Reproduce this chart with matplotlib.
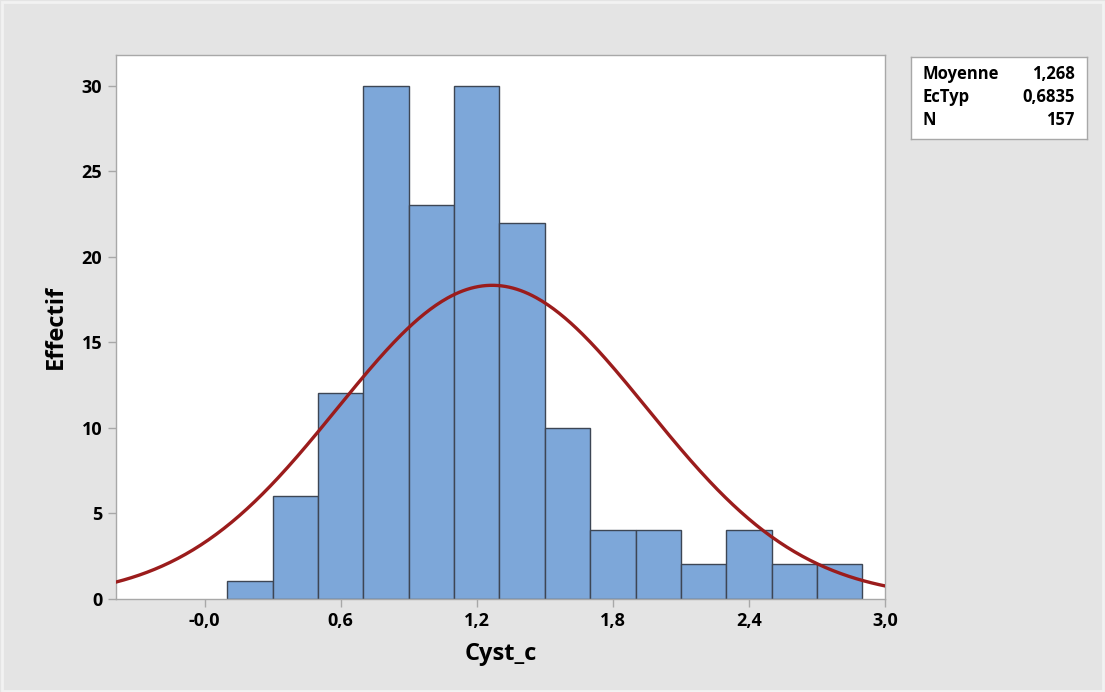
import numpy as np
import matplotlib
matplotlib.use('Agg')
import matplotlib.pyplot as plt
from matplotlib.patches import Rectangle

# Histogram data (bin midpoints and counts)
bin_mids = [0.2, 0.4, 0.6, 0.8, 1.0, 1.2, 1.4, 1.6, 1.8, 2.0, 2.2, 2.4, 2.6, 2.8]
counts = [1, 6, 12, 30, 23, 30, 22, 10, 4, 4, 2, 4, 2, 2]
bin_width = 0.2

# Summary statistics
stat_names = ['Moyenne', 'EcTyp', 'N']
stat_values = ['1,268', '0,6835', '157']
mean_val = 1.268
sd_val = 0.6835
n_obs = 157

xtick_pos = [0.0, 0.6, 1.2, 1.8, 2.4, 3.0]
xtick_labels = ['-0,0', '0,6', '1,2', '1,8', '2,4', '3,0']
ytick_pos = [0, 5, 10, 15, 20, 25, 30]

plt.rcParams['font.family'] = ['Open Sans', 'DejaVu Sans']

fig = plt.figure(figsize=(11.05, 6.92), dpi=100)
fig.patch.set_facecolor('#e4e4e4')
fig.patches.append(Rectangle((0.002, 0.002), 0.996, 0.995, transform=fig.transFigure,
                             fill=False, edgecolor='#f2f2f2', linewidth=2))

ax = fig.add_axes([0.105, 0.135, 0.696, 0.7855])
ax.set_facecolor('white')

ax.bar(bin_mids, counts, width=bin_width, color='#7da7d9',
       edgecolor='#3d4654', linewidth=1.0, zorder=2)

# Fitted normal curve
xmin, xmax = -0.39, 3.0
xs = np.linspace(xmin, xmax, 400)
ys = n_obs * bin_width / (sd_val * np.sqrt(2 * np.pi)) * np.exp(-0.5 * ((xs - mean_val) / sd_val) ** 2)
ax.plot(xs, ys, color='#9b1c1c', linewidth=2.4, zorder=3)

ax.set_xlim(xmin, xmax)
ax.set_ylim(0, 31.8)

ax.set_xticks(xtick_pos)
ax.set_xticklabels(xtick_labels)
ax.set_yticks(ytick_pos)

for s in ax.spines.values():
    s.set_color('#a8a8a8')
    s.set_linewidth(1.0)

ax.tick_params(axis='both', direction='out', length=6, width=1, color='#a8a8a8',
               labelsize=13, labelcolor='black', pad=4)
for lbl in ax.get_xticklabels() + ax.get_yticklabels():
    lbl.set_fontweight('bold')

ax.set_xlabel('Cyst_c', fontsize=17, fontweight='bold', labelpad=8)
ax.set_ylabel('Effectif', fontsize=17, fontweight='bold', labelpad=10)

# Stats box
box_ax = fig.add_axes([911 / 1105, 1 - 139 / 692, 176 / 1105, 82 / 692])
box_ax.set_xlim(0, 1)
box_ax.set_ylim(0, 1)
box_ax.set_xticks([])
box_ax.set_yticks([])
box_ax.set_facecolor('white')
for s in box_ax.spines.values():
    s.set_color('#a8a8a8')
    s.set_linewidth(1.0)
for i, (name, val) in enumerate(zip(stat_names, stat_values)):
    yy = 0.79 - i * 0.28
    box_ax.text(0.068, yy, name, fontsize=12, fontweight='bold', va='center', ha='left')
    box_ax.text(0.93, yy, val, fontsize=12, fontweight='bold', va='center', ha='right')

fig.savefig('out.png', dpi=100, facecolor=fig.get_facecolor())
plt.close(fig)
